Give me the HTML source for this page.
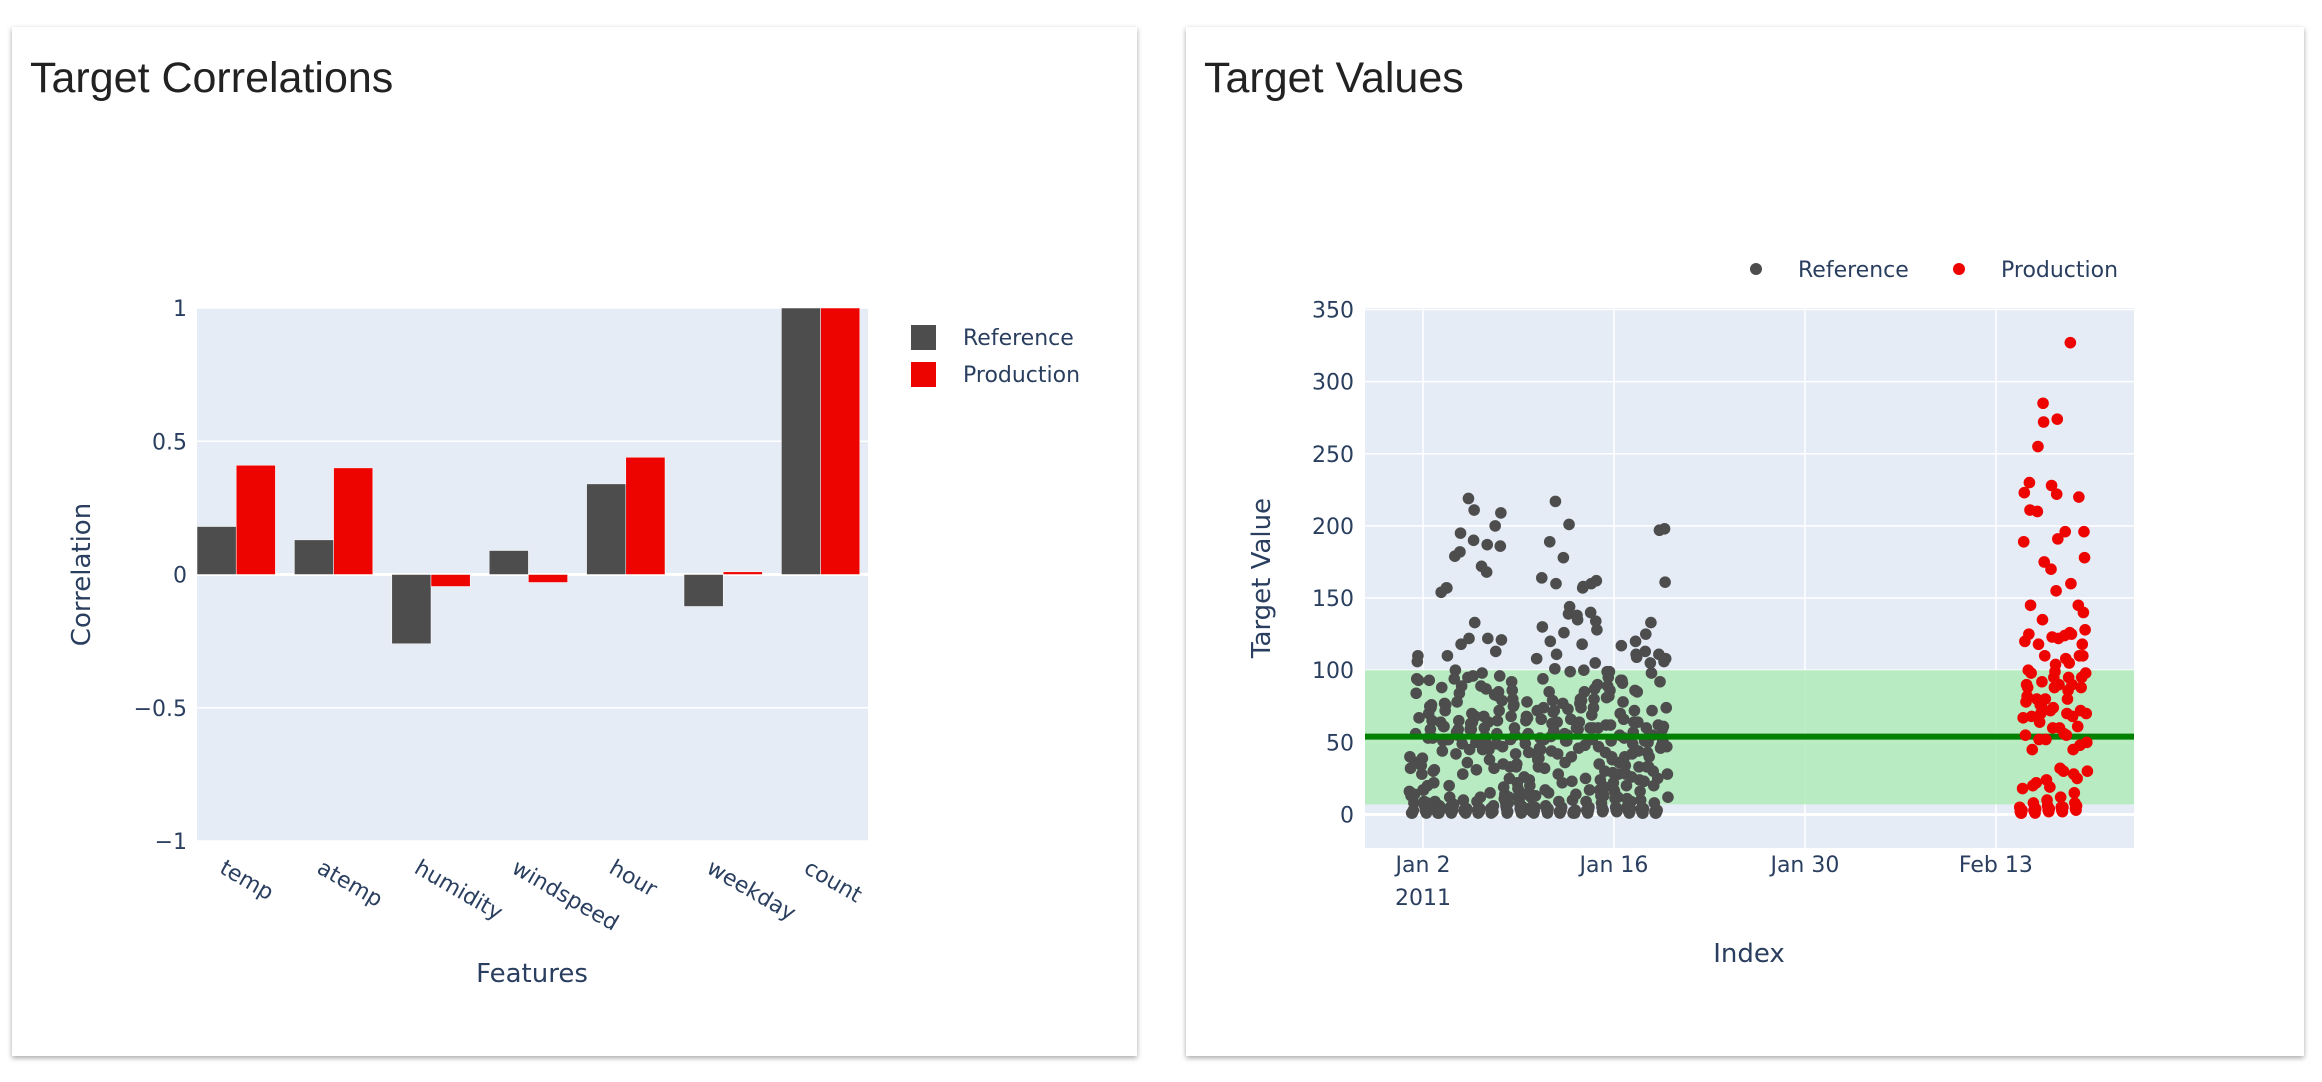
<!DOCTYPE html>
<html><head><meta charset="utf-8"><style>
html,body{margin:0;padding:0;background:#fff;width:2322px;height:1082px;overflow:hidden}
.card{position:absolute;background:#fff;box-shadow:0 2px 5px rgba(0,0,0,0.35);}
svg{position:absolute;left:0;top:0}
text{font-family:"DejaVu Sans","Liberation Sans",sans-serif;fill:#2a3f5f}
</style></head><body>
<div class="card" style="left:12px;top:27px;width:1125px;height:1029px"></div>
<div class="card" style="left:1186px;top:27px;width:1118px;height:1029px"></div>
<svg id="s" width="2322" height="1082"></svg>
<script>
const features=["temp","atemp","humidity","windspeed","hour","weekday","count"];
const refCorr=[0.18,0.13,-0.26,0.09,0.34,-0.12,1];
const prodCorr=[0.41,0.40,-0.045,-0.03,0.44,0.01,1];
const corrTicks=[1,0.5,0,-0.5,-1];
const corrTickLabels=["1","0.5","0","\u22120.5","\u22121"];

const refStartDay=0;
const refValues=[
[16,40,32,13,1,1,2,3,8,14,36,56,84,94,106,110,93,67,35,37,36,34,28,39],
[17,17,9,6,3,2,1,8,20,53,70,93,75,59,74,76,65,53,30,22,31,9,8,5],
[5,2,1,3,1,6,3,64,154,88,44,51,61,61,77,72,76,157,157,110,52,52,20,12],
[5,2,1,2,3,7,7,94,179,100,42,57,78,55,59,65,84,182,195,118,89,49,28,10],
[3,2,4,1,2,4,36,95,219,122,45,59,63,59,70,64,96,190,211,133,68,50,31,9],
[3,1,3,2,4,12,89,172,98,45,47,68,60,54,50,87,168,187,122,64,45,38,15,4],
[1,3,2,2,6,32,83,200,113,49,56,65,82,85,72,96,186,209,121,79,47,35,19,11],
[14,9,6,4,1,2,8,12,25,33,52,68,92,86,80,75,76,60,55,42,33,35,22,18],
[12,16,8,4,3,1,2,4,5,14,26,53,49,65,68,78,67,56,43,24,20,14,12,5],
[2,5,3,1,3,5,13,42,108,72,38,33,39,46,53,45,66,164,130,94,74,52,32,17],
[6,5,3,1,4,15,85,189,120,54,44,63,79,71,58,72,101,217,160,111,64,42,28,9],
[2,1,2,3,5,22,77,178,126,56,36,51,53,51,55,73,139,201,144,99,66,40,23,10],
[1,2,2,1,3,14,60,138,135,59,46,64,77,80,74,79,118,157,158,100,85,48,25,9],
[3,2,1,3,5,17,60,140,160,69,52,60,74,80,87,105,134,162,128,90,60,47,35,17],
[24,13,8,5,2,3,13,19,30,43,62,81,99,89,95,82,99,86,62,51,40,38,29,22],
[17,16,11,5,3,2,4,12,28,36,55,70,93,117,93,91,78,66,53,40,34,28,20,11],
[6,3,2,1,2,4,9,26,42,49,57,64,72,86,120,111,109,85,64,44,33,24,16,10],
[4,2,1,1,4,23,51,113,125,60,33,43,50,33,40,55,105,133,98,72,55,30,20,8],
[2,1,1,2,3,25,62,111,197,92,46,54,48,59,51,61,106,198,161,108,74,47,28,12]];
const prodStartDay=44.75;
const prodValues=[
[5,2,1,1,3,18,67,189,223,120,55,78,90,82,88,100,125,230,211,145,98,68,45,20],
[8,3,2,1,4,22,80,210,255,118,52,64,76,70,75,92,135,285,272,175,110,80,52,24],
[10,6,3,2,4,19,72,170,228,123,60,74,95,88,99,104,155,222,274,191,122,90,60,32],
[12,5,3,2,5,30,56,124,196,108,55,70,80,86,95,105,126,327,160,125,90,68,45,28],
[15,8,4,3,6,25,61,145,220,110,48,72,88,95,118,110,140,196,178,128,98,70,50,30]];
const bandLow=7, bandHigh=100, meanLine=54;
const yTicks=[0,50,100,150,200,250,300,350];
const xTickDays=[1,15,29,43];
const xTickLabels=["Jan 2","Jan 16","Jan 30","Feb 13"];

const NS="http://www.w3.org/2000/svg";
const svg=document.getElementById('s');
function mk(tag,attrs,parent){const e=document.createElementNS(NS,tag);for(const k in attrs)e.setAttribute(k,attrs[k]);(parent||svg).appendChild(e);return e;}
function txt(s,attrs){const e=mk('text',attrs);e.textContent=s;return e;}

// ===== Left chart =====
const L={x0:197,x1:868,y0:308,y1:841};
function cy(v){return L.y0+(1-v)/2*(L.y1-L.y0);}
const bw=97.4;
function cx(i){return L.x0+39.2+bw*i;}
let t=txt("Target Correlations",{x:30,y:92,'font-size':43,style:'font-family:"Liberation Sans",sans-serif;fill:#222'});

let bg=mk('rect',{x:L.x0,y:L.y0,width:L.x1-L.x0,height:L.y1-L.y0,fill:'#e5ecf6'});

corrTicks.forEach((v,i)=>{
  const g=mk('line',{x1:L.x0,x2:L.x1,y1:cy(v),y2:cy(v),stroke:'#fff','stroke-width':v===0?3:1.5});
  
  const l=txt(corrTickLabels[i],{x:187,y:cy(v)+8,'text-anchor':'end','font-size':22});
  
});
const gbw=39.2;
features.forEach((f,i)=>{
  const gx=cx(i)-gbw;
  [[refCorr[i],'#4d4d4d',gx],[prodCorr[i],'#ed0400',gx+gbw]].forEach(([v,c,x],k)=>{
    const y=Math.min(cy(v),cy(0)),h=Math.abs(cy(v)-cy(0));
    const r=mk('rect',{x:x,y:y,width:gbw,height:Math.max(h,1),fill:c,stroke:'#fff','stroke-width':0.5});
    
    
  });
  const tx=cx(i)-18,ty=872;
  const l=txt(f,{x:tx,y:ty,'font-size':22,transform:`rotate(30 ${tx} ${ty})`});
  
});
t=txt("Correlation",{x:90,y:(L.y0+L.y1)/2,'text-anchor':'middle','font-size':26,transform:`rotate(-90 90 ${(L.y0+L.y1)/2})`});

t=txt("Features",{x:532,y:982,'text-anchor':'middle','font-size':26});

[['Reference','#4d4d4d',325],['Production','#ed0400',362]].forEach(([n,c,y])=>{
  const r=mk('rect',{x:911,y:y,width:25,height:25,fill:c});
  
  const l=txt(n,{x:963,y:y+20,'font-size':22});
  
});

// ===== Right chart =====
const R={x0:1365,x1:2134,y0:308,y1:848};
function rx(d){return 1423+(d-1)*13.64;}
function ry(v){return 814.5-v*1.443;}
t=txt("Target Values",{x:1204,y:92,'font-size':43,style:'font-family:"Liberation Sans",sans-serif;fill:#222'});

bg=mk('rect',{x:R.x0,y:R.y0,width:R.x1-R.x0,height:R.y1-R.y0,fill:'#e5ecf6'});

yTicks.forEach(v=>{
  const g=mk('line',{x1:R.x0,x2:R.x1,y1:ry(v),y2:ry(v),stroke:'#fff','stroke-width':v===0?3:1.5});
  
  const l=txt(String(v),{x:1354,y:ry(v)+8,'text-anchor':'end','font-size':22});
  
});
xTickDays.forEach((d,i)=>{
  const g=mk('line',{x1:rx(d),x2:rx(d),y1:R.y0,y2:R.y1,stroke:'#fff','stroke-width':1.5});
  
  const l=txt(xTickLabels[i],{x:rx(d),y:872,'text-anchor':'middle','font-size':22});
  
});
t=txt("2011",{x:rx(1),y:905,'text-anchor':'middle','font-size':22});

const band=mk('rect',{x:R.x0,y:ry(bandHigh),width:R.x1-R.x0,height:ry(bandLow)-ry(bandHigh),fill:'#b1ebb9',opacity:0.85});

function dots(rows,start,color,name){
  rows.forEach((row,d)=>row.forEach((v,h)=>{
    const c=mk('circle',{cx:rx(start+d+h/24),cy:ry(v),r:5.8,fill:color});
    
    
  }));
}
dots(refValues,refStartDay,'#4d4d4d','reference-point');
const ml=mk('line',{x1:R.x0,x2:R.x1,y1:ry(meanLine),y2:ry(meanLine),stroke:'#008000','stroke-width':6});

dots(prodValues,prodStartDay,'#ed0400','production-point');
t=txt("Target Value",{x:1270,y:578,'text-anchor':'middle','font-size':26,transform:'rotate(-90 1270 578)'});

t=txt("Index",{x:1749,y:962,'text-anchor':'middle','font-size':26});

[['Reference','#4d4d4d',1756],['Production','#ed0400',1959]].forEach(([n,c,x])=>{
  const d=mk('circle',{cx:x,cy:269,r:6,fill:c});
  
  const l=txt(n,{x:x+42,y:277,'font-size':22});
  
});
</script>
</body></html>
